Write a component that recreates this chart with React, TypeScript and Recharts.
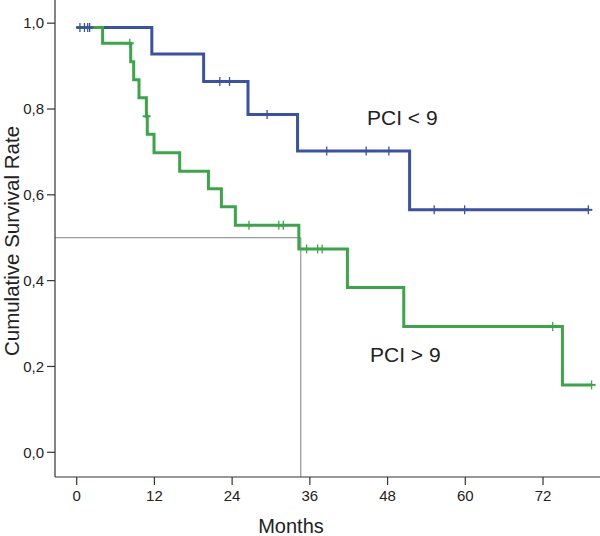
import React from "react";
import {
  ComposedChart,
  Line,
  Scatter,
  XAxis,
  YAxis,
  ReferenceLine,
  Customized,
} from "recharts";

// Kaplan–Meier step data (months, cumulative survival)
const blueTimes = [0, 11.6, 19.6, 26.45, 34.1, 51.4, 79.0];
const blueSurv = [0.99, 0.928, 0.864, 0.787, 0.702, 0.565, 0.565];
const blueCensorTimes = [0.5, 1.2, 1.7, 2.0, 22.1, 23.6, 29.4, 38.6, 44.7, 48.2, 55.2, 59.9, 79.0];
const blueCensorSurv = [0.99, 0.99, 0.99, 0.99, 0.864, 0.864, 0.787, 0.702, 0.702, 0.702, 0.565, 0.565, 0.565];

const greenTimes = [0, 4.0, 8.34, 8.8, 9.62, 10.76, 10.9, 11.94, 15.9, 20.34, 22.34, 24.5, 34.3, 41.8, 50.5, 75.0, 79.5];
const greenSurv = [0.99, 0.953, 0.91, 0.868, 0.826, 0.783, 0.741, 0.698, 0.655, 0.614, 0.572, 0.529, 0.474, 0.384, 0.293, 0.157, 0.157];
const greenCensorTimes = [8.2, 10.8, 26.6, 31.2, 31.9, 35.5, 37.2, 37.9, 73.5, 79.5];
const greenCensorSurv = [0.953, 0.783, 0.529, 0.529, 0.529, 0.474, 0.474, 0.474, 0.293, 0.157];

const xTicks = [0, 12, 24, 36, 48, 60, 72];
const yTicks = [0, 0.2, 0.4, 0.6, 0.8, 1.0];
const xDomain = [-3.35, 80.8];
const yDomain = [-0.0576, 1.054];
const medianTime = 34.6;
const medianSurv = 0.5;

const groupLabels = ["PCI < 9", "PCI > 9"];

const BLUE = "#3a52a3";
const GREEN = "#3aa648";
const FONT = "'Liberation Sans', Arial, sans-serif";

const toPts = (ts: number[], ss: number[]) => ts.map((t, i) => ({ t, s: ss[i] }));

const blueData = toPts(blueTimes, blueSurv);
const greenData = toPts(greenTimes, greenSurv);
const blueCensor = toPts(blueCensorTimes, blueCensorSurv);
const greenCensor = toPts(greenCensorTimes, greenCensorSurv);

const censorShape = (color: string) => (props: any) => {
  const { cx, cy } = props;
  return (
    <g>
      <line x1={cx} x2={cx} y1={cy - 4.5} y2={cy + 4.5} stroke={color} strokeWidth={1.3} />
      <line x1={cx - 4} x2={cx + 4} y1={cy} y2={cy} stroke={color} strokeWidth={2} />
    </g>
  );
};

const Labels = () => (
  <g fontFamily={FONT} fontSize={21} fill="#222">
    <text x={367} y={125}>{groupLabels[0]}</text>
    <text x={370} y={362}>{groupLabels[1]}</text>
    <text x={19} y={241} textAnchor="middle" fontSize={20.5} transform="rotate(-90, 19, 241)">
      Cumulative Survival Rate
    </text>
    <text x={291} y={533} textAnchor="middle" fontSize={20}>
      Months
    </text>
  </g>
);

export default function App() {
  return (
    <div style={{ position: "absolute", left: 0, top: 0, background: "#fff" }}>
      <ComposedChart
        width={600}
        height={536}
        margin={{ top: 0, right: 0, bottom: 0, left: 0 }}
        style={{ fontFamily: FONT }}
      >
        <XAxis
          dataKey="t"
          type="number"
          domain={xDomain}
          ticks={xTicks}
          allowDataOverflow
          height={59}
          tickSize={8}
          tickMargin={5}
          axisLine={{ stroke: "#333", strokeWidth: 1.2 }}
          tickLine={{ stroke: "#333", strokeWidth: 1.2 }}
          tick={{ fill: "#222", fontSize: 15, fontFamily: FONT }}
        />
        <YAxis
          type="number"
          domain={yDomain}
          ticks={yTicks}
          allowDataOverflow
          width={55}
          tickSize={8}
          tickMargin={3}
          tickFormatter={(v: number) => v.toFixed(1).replace(".", ",")}
          axisLine={{ stroke: "#333", strokeWidth: 1.2 }}
          tickLine={{ stroke: "#333", strokeWidth: 1.2 }}
          tick={{ fill: "#222", fontSize: 15, fontFamily: FONT }}
        />
        <ReferenceLine
          segment={[
            { x: xDomain[0], y: medianSurv },
            { x: medianTime, y: medianSurv },
          ]}
          stroke="#808080"
          strokeWidth={1}
        />
        <ReferenceLine
          segment={[
            { x: medianTime, y: medianSurv },
            { x: medianTime, y: yDomain[0] },
          ]}
          stroke="#808080"
          strokeWidth={1}
        />
        <Line
          data={blueData}
          dataKey="s"
          type="stepAfter"
          stroke={BLUE}
          strokeWidth={3}
          dot={false}
          activeDot={false}
          isAnimationActive={false}
        />
        <Line
          data={greenData}
          dataKey="s"
          type="stepAfter"
          stroke={GREEN}
          strokeWidth={3}
          dot={false}
          activeDot={false}
          isAnimationActive={false}
        />
        <Scatter
          data={greenCensor}
          dataKey="s"
          shape={censorShape(GREEN)}
          isAnimationActive={false}
        />
        <Scatter
          data={blueCensor}
          dataKey="s"
          shape={censorShape(BLUE)}
          isAnimationActive={false}
        />
        <Customized component={Labels} />
      </ComposedChart>
    </div>
  );
}
